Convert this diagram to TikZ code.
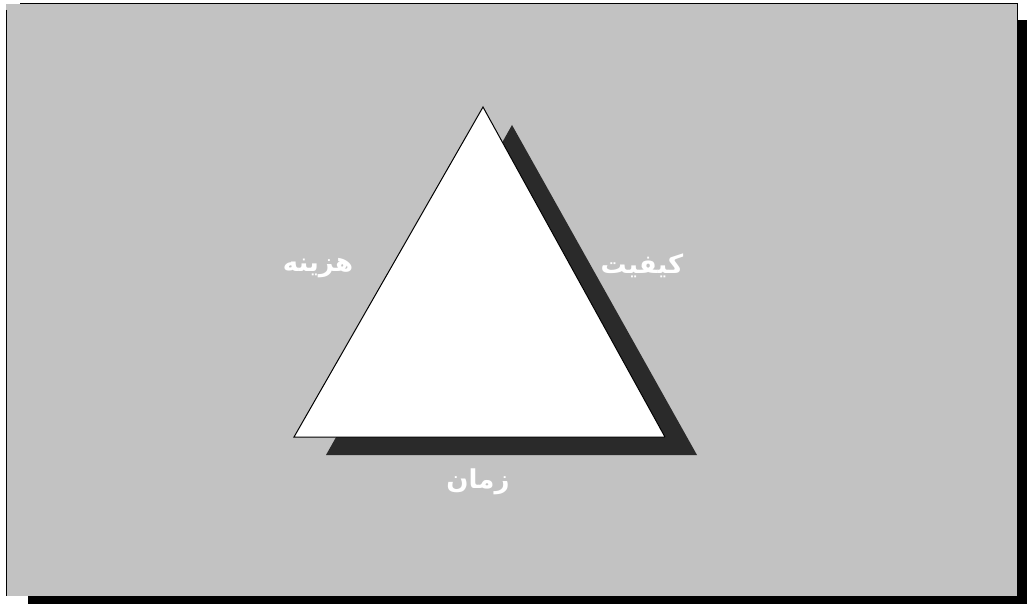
\documentclass[tikz,border=0pt]{standalone}
\usepackage{fontspec}
\TeXXeTstate=1
\newfontfamily\arabicfont[Script=Arabic]{DejaVu Sans}
\definecolor{bggray}{HTML}{C2C2C2}
\definecolor{shadowgray}{HTML}{2A2A2A}
\begin{document}
\begin{tikzpicture}[x=1pt,y=-1pt,
  lbl/.style={text=white,font=\arabicfont\bfseries\fontsize{26}{30}\selectfont,inner sep=0pt}]
\useasboundingbox (0,0) rectangle (1027,604);
\fill[white] (0,0) rectangle (1027,604);
% frame shadow
\fill[black] (1017,20) rectangle (1027,604);
\fill[black] (28,596) rectangle (1027,604);
% frame
\fill[bggray] (6,4) rectangle (1017,596);
\draw[black,line width=1.5pt] (6.5,10) -- (6.5,596);
\draw[black,line width=1pt] (20,4) -- (1017,4) -- (1017,20);
% triangle shadow
\coordinate (sa) at (512,125);
\coordinate (sl) at (326,455);
\coordinate (sr) at (697,455);
\fill[shadowgray] (sa) -- (sl) -- (sr) -- cycle;
% triangle
\coordinate (ta) at (483,107);
\coordinate (tl) at (294,437);
\coordinate (tr) at (665,437);
\fill[white] (ta) -- (tl) -- (tr) -- cycle;
\draw[black,line width=1pt] (tr) -- (ta) -- (tl) -- (tr);
% labels
\node[lbl] (cost) at (318,268) {\beginR هزینه\endR};
\node[lbl] (quality) at (642,266) {\beginR کیفیت\endR};
\node[lbl] (time) at (478,482) {\beginR زمان\endR};
\end{tikzpicture}
\end{document}
